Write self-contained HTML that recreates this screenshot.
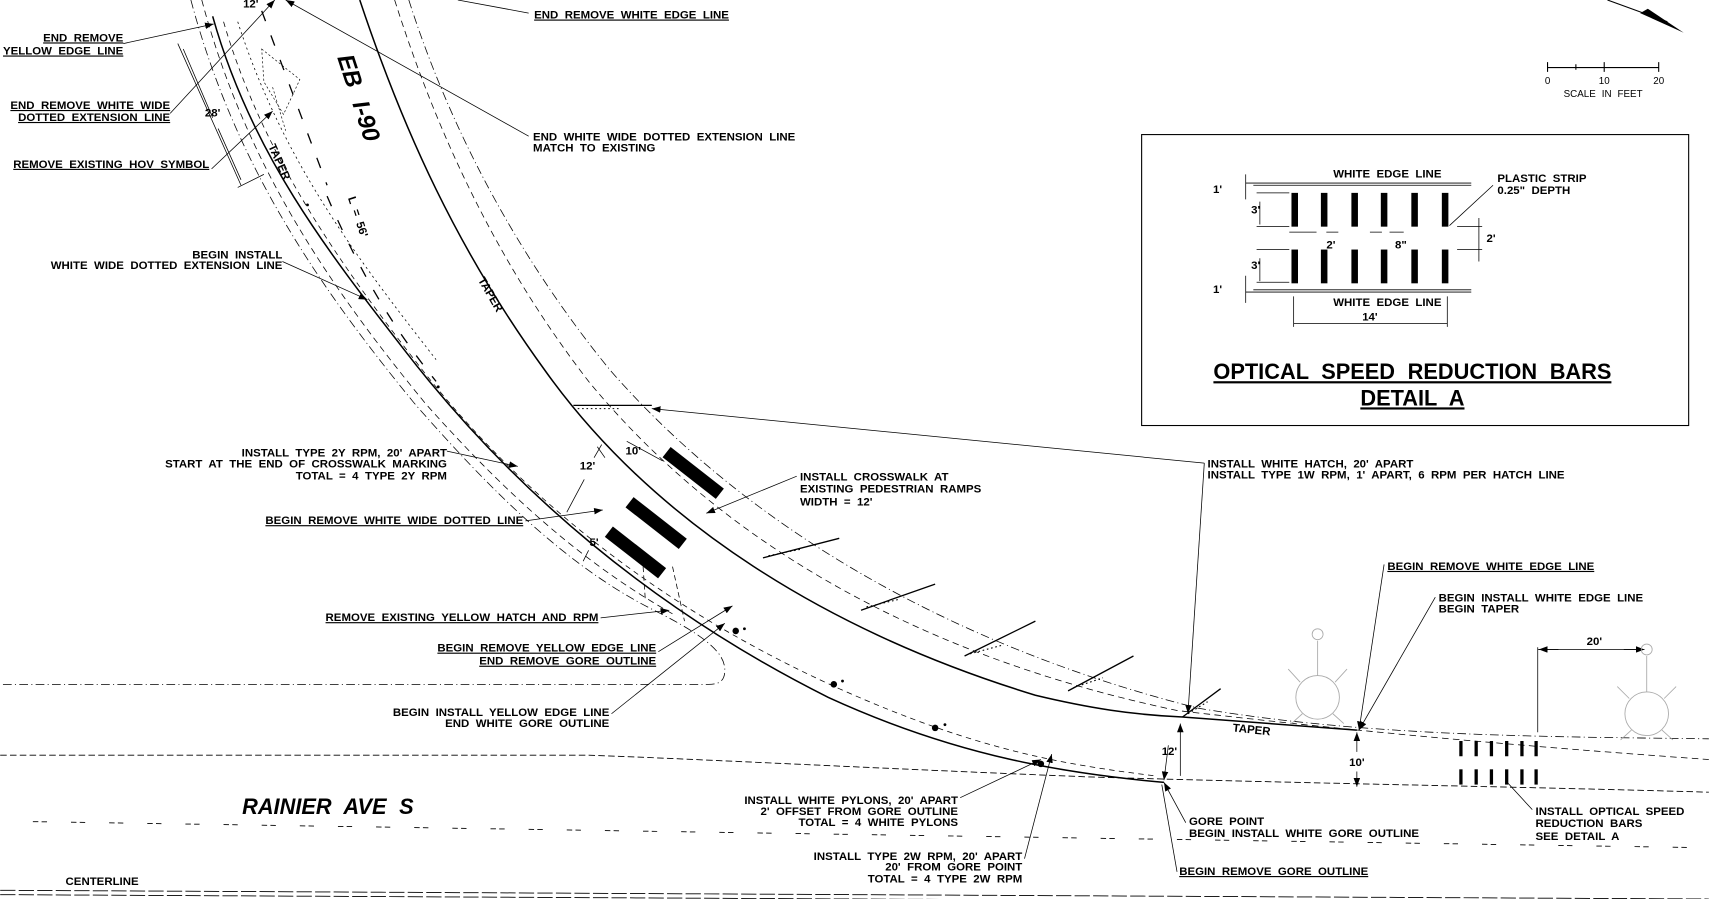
<!DOCTYPE html>
<html><head><meta charset="utf-8"><style>
html,body{margin:0;padding:0;background:#fff;}
svg{display:block;}
text{font-family:"Liberation Sans",sans-serif;font-weight:bold;font-size:10.5px;fill:#000;word-spacing:3px;}
.u{text-decoration:underline;}
.e{text-anchor:end;}
.m{text-anchor:middle;}
</style></head><body>
<svg width="1709" height="899" viewBox="0 0 1568 825" xmlns="http://www.w3.org/2000/svg">
<defs>
<marker id="a" markerWidth="8" markerHeight="6" refX="8" refY="3" orient="auto" markerUnits="userSpaceOnUse"><path d="M0,0 L8,3 L0,6 z" fill="#000"/></marker>
</defs>
<g fill="none" stroke="#000">
<path d="M195,15 C230,140 300,230 370,320 C470,450 600,560 760,640 C880,695 980,710 1068,718" stroke-width="1.4"/>
<path d="M330,0 C370,120 420,230 500,340 C600,480 760,580 950,638 C1000,650 1040,656 1085,658 L1245,670" stroke-width="1.4"/>
<path d="M375,0 C410,110 470,230 560,340 C700,500 900,600 1100,650 C1250,675 1400,676 1568,678" stroke-width="0.7" stroke-dasharray="8,3,1,3"/>
<path d="M362,0 C400,120 455,240 540,350 C680,520 880,610 1080,652 C1250,672 1400,685 1568,697" stroke-width="0.7" stroke-dasharray="6,4"/>
<path d="M205,20 C240,140 310,240 380,330 C480,460 610,560 770,632 C900,690 980,702 1060,712" stroke-width="0.7" stroke-dasharray="5,4"/>
<path d="M218,20 C260,150 330,240 400,330" stroke-width="0.7" stroke-dasharray="2,3"/>
<path d="M240,10 L300,170 M300,180 C330,250 360,300 400,350" stroke-width="1.2" stroke-dasharray="10,14"/>
<path d="M175,0 C215,150 290,260 380,370 C450,450 520,520 600,560 C650,585 665,600 665,615 C665,625 660,628 650,628 L0,628" stroke-width="0.7" stroke-dasharray="8,3,1,3"/>
<path d="M185,0 C225,150 300,260 390,370 C470,460 540,520 620,565" stroke-width="0.7" stroke-dasharray="6,4"/>
<path d="M0,693 L540,693 C650,697 800,705 1000,713 C1200,719 1400,722 1568,727" stroke-width="0.8" stroke-dasharray="6,3"/>
<path d="M30,754 L1568,778" stroke-width="0.8" stroke-dasharray="5,3,5,22"/>
<path d="M0,817 L1568,825 M0,821 L1568,829" stroke-width="0.8" stroke-dasharray="14,3"/>
<path d="M240,45 L275,73 L260,105 L242,75 z M250,80 L262,120" stroke-width="0.6" stroke-dasharray="2,2"/>
<path d="M163,40 L221,170 M168,45 L195,108 M200,118 L221,165" stroke-width="0.7"/>
<path d="M218,172 L242,160" stroke-width="0.7"/>
<path d="M526,372 L598,372 M700,512 L770,494 M790,560 L858,536 M885,602 L950,570 M980,634 L1040,602 M1085,658 L1120,632" stroke-width="1.2"/>
<path d="M530,375 L570,375 M705,510 L735,504 M795,557 L825,550 M890,600 L920,592 M985,631 L1012,622 M1090,655 L1108,644" stroke-width="1" stroke-dasharray="1.5,2.5"/>
<path d="M590,520 L592,550 M617,520 L628,570" stroke-width="0.7" stroke-dasharray="5,3"/>
<path d="M113,40 L196,22" marker-end="url(#a)" stroke-width="0.7"/>
<path d="M156,104 L252,0" marker-end="url(#a)" stroke-width="0.7"/>
<path d="M194,155 L250,102" marker-end="url(#a)" stroke-width="0.7"/>
<path d="M259,240 L337,275" marker-end="url(#a)" stroke-width="0.7"/>
<path d="M485,12 L420,0" stroke-width="0.7"/>
<path d="M485,125 L262,0" marker-end="url(#a)" stroke-width="0.7"/>
<path d="M410,414 L475,428" marker-end="url(#a)" stroke-width="0.7"/>
<path d="M482,478 L553,468" marker-end="url(#a)" stroke-width="0.7"/>
<path d="M731,437 L648,471" marker-end="url(#a)" stroke-width="0.7"/>
<path d="M1105,425 L598,375" marker-end="url(#a)" stroke-width="0.7"/>
<path d="M1105,425 L1090,655" marker-end="url(#a)" stroke-width="0.7"/>
<path d="M551,567 L614,560" marker-end="url(#a)" stroke-width="0.7"/>
<path d="M604,598 L672,556" marker-end="url(#a)" stroke-width="0.7"/>
<path d="M561,655 L665,572" marker-end="url(#a)" stroke-width="0.7"/>
<path d="M881,732 L955,697" marker-end="url(#a)" stroke-width="0.7"/>
<path d="M940,788 L965,692" marker-end="url(#a)" stroke-width="0.7"/>
<path d="M1088,755 L1068,718" marker-end="url(#a)" stroke-width="0.7"/>
<path d="M1080,800 L1066,720" stroke-width="0.7"/>
<path d="M1270,518 L1247,670" marker-end="url(#a)" stroke-width="0.7"/>
<path d="M1317,548 L1247,670" marker-end="url(#a)" stroke-width="0.7"/>
<path d="M1406,743 L1383,718" stroke-width="0.7"/>
<path d="M1083,712 L1083,664" marker-end="url(#a)" stroke-width="0.7"/>
<path d="M1072,684 L1068,716" marker-end="url(#a)" stroke-width="0.7"/>
<path d="M1245,690 L1245,672" marker-end="url(#a)" stroke-width="0.7"/>
<path d="M1245,708 L1245,722" marker-end="url(#a)" stroke-width="0.7"/>
<path d="M1411,672 L1411,594 M1411,596 L1508,596" stroke-width="0.7"/>
<path d="M1430,596 L1412,596" marker-end="url(#a)" stroke-width="0.7"/>
<path d="M1490,596 L1509,596" marker-end="url(#a)" stroke-width="0.7"/>
<path d="M555,420 L548,410 M575,405 L608,423 M536,440 L520,470 M545,420 L552,408 M540,505 L535,515" stroke-width="0.7"/>
<g stroke="#aaa" stroke-width="0.8">
<circle cx="1209" cy="640" r="20"/><path d="M1209,620 L1209,588 M1193,626 L1182,614 M1225,626 L1236,614 M1195,655 L1185,664 M1223,655 L1233,664"/><circle cx="1209" cy="582" r="5"/>
<circle cx="1511" cy="655" r="20"/><path d="M1511,635 L1511,602 M1495,641 L1484,630 M1527,641 L1538,630 M1497,670 L1487,679 M1525,670 L1535,679"/><circle cx="1511" cy="596" r="5"/>
</g>
<path d="M1420,62 L1522,62 M1420,57 L1420,66 M1446,59 L1446,64 M1472,57 L1472,66 M1522,57 L1522,66" stroke-width="1"/>
<path d="M1475,0 L1530,20" stroke-width="1"/>
<rect x="1047.5" y="123.5" width="502" height="267" stroke-width="1"/>
<path d="M1143,168 L1350,168 M1143,268 L1350,268 M1150,170 L1350,170 M1150,266 L1350,266" stroke-width="0.8"/>
<path d="M1143,160 L1143,183 M1143,253 L1143,278 M1153,177 L1183,177 M1153,208 L1183,208 M1153,229 L1183,229 M1153,259 L1183,259 M1156,185 L1156,206 M1156,237 L1156,258 M1337,208 L1360,208 M1337,229 L1360,229 M1357,200 L1357,240 M1187,272 L1187,300 M1328,272 L1328,300 M1187,297 L1328,297 M1183,213 L1208,213 M1217,213 L1228,213 M1257,213 L1268,213 M1275,213 L1288,213 M1370,170 L1330,207" stroke-width="0.7"/>
</g>
<g fill="#000">
<rect x="-31" y="-6" width="62" height="12" transform="translate(636,434) rotate(38)"/>
<rect x="-31" y="-6" width="62" height="12" transform="translate(602,480) rotate(38)"/>
<rect x="-31" y="-6" width="62" height="12" transform="translate(583,507) rotate(38)"/>
<circle cx="675" cy="579" r="3"/><circle cx="765" cy="628" r="3"/><circle cx="858" cy="668" r="3"/><circle cx="955" cy="701" r="3"/>
<circle cx="683" cy="577" r="1.3"/><circle cx="773" cy="625" r="1.3"/><circle cx="867" cy="665" r="1.3"/><circle cx="282" cy="188" r="1.3"/><circle cx="402" cy="355" r="1.3"/>
<g id="b1"><rect x="1339" y="680" width="3" height="14"/><rect x="1353" y="680" width="3" height="14"/><rect x="1367" y="680" width="3" height="14"/><rect x="1381" y="680" width="3" height="14"/><rect x="1395" y="680" width="3" height="14"/><rect x="1408" y="680" width="3" height="14"/></g>
<use href="#b1" y="26"/>
<g id="b2"><rect x="1185" y="177" width="6" height="31"/><rect x="1212" y="177" width="6" height="31"/><rect x="1240" y="177" width="6" height="31"/><rect x="1267" y="177" width="6" height="31"/><rect x="1295" y="177" width="6" height="31"/><rect x="1323" y="177" width="6" height="31"/></g>
<use href="#b2" y="52"/>
</g>
<text x="113" y="38" class="e u">END REMOVE</text>
<text x="113" y="50" class="e u">YELLOW EDGE LINE</text>
<text x="156" y="100" class="e u">END REMOVE WHITE WIDE</text>
<text x="156" y="111" class="e u">DOTTED EXTENSION LINE</text>
<text x="12" y="154" class="u">REMOVE EXISTING HOV SYMBOL</text>
<text x="259" y="237" class="e">BEGIN INSTALL</text>
<text x="259" y="247" class="e">WHITE WIDE DOTTED EXTENSION LINE</text>
<text x="490" y="17" class="u">END REMOVE WHITE EDGE LINE</text>
<text x="489" y="129">END WHITE WIDE DOTTED EXTENSION LINE</text>
<text x="489" y="139">MATCH TO EXISTING</text>
<text x="410" y="419" class="e">INSTALL TYPE 2Y RPM, 20' APART</text>
<text x="410" y="429" class="e">START AT THE END OF CROSSWALK MARKING</text>
<text x="410" y="440" class="e">TOTAL = 4 TYPE 2Y RPM</text>
<text x="480" y="481" class="e u">BEGIN REMOVE WHITE WIDE DOTTED LINE</text>
<text x="734" y="441">INSTALL CROSSWALK AT</text>
<text x="734" y="452">EXISTING PEDESTRIAN RAMPS</text>
<text x="734" y="464">WIDTH = 12'</text>
<text x="1108" y="429">INSTALL WHITE HATCH, 20' APART</text>
<text x="1108" y="439">INSTALL TYPE 1W RPM, 1' APART, 6 RPM PER HATCH LINE</text>
<text x="549" y="570" class="e u">REMOVE EXISTING YELLOW HATCH AND RPM</text>
<text x="602" y="598" class="e u">BEGIN REMOVE YELLOW EDGE LINE</text>
<text x="602" y="610" class="e u">END REMOVE GORE OUTLINE</text>
<text x="559" y="657" class="e">BEGIN INSTALL YELLOW EDGE LINE</text>
<text x="559" y="667" class="e">END WHITE GORE OUTLINE</text>
<text x="222" y="747" style="font-size:20px;font-style:italic;font-weight:bold;word-spacing:6px">RAINIER AVE S</text>
<text x="879" y="738" class="e">INSTALL WHITE PYLONS, 20' APART</text>
<text x="879" y="748" class="e">2' OFFSET FROM GORE OUTLINE</text>
<text x="879" y="758" class="e">TOTAL = 4 WHITE PYLONS</text>
<text x="938" y="789" class="e">INSTALL TYPE 2W RPM, 20' APART</text>
<text x="938" y="799" class="e">20' FROM GORE POINT</text>
<text x="938" y="810" class="e">TOTAL = 4 TYPE 2W RPM</text>
<text x="1091" y="757">GORE POINT</text>
<text x="1091" y="768">BEGIN INSTALL WHITE GORE OUTLINE</text>
<text x="1082" y="803" class="u">BEGIN REMOVE GORE OUTLINE</text>
<text x="60" y="812">CENTERLINE</text>
<text x="1273" y="523" class="u">BEGIN REMOVE WHITE EDGE LINE</text>
<text x="1320" y="552">BEGIN INSTALL WHITE EDGE LINE</text>
<text x="1320" y="562">BEGIN TAPER</text>
<text x="1409" y="748">INSTALL OPTICAL SPEED</text>
<text x="1409" y="759">REDUCTION BARS</text>
<text x="1409" y="771">SEE DETAIL A</text>
<text x="1463" y="592" class="m">20'</text>
<text x="1131" y="673" transform="rotate(6 1148 670)">TAPER</text>
<text x="1073" y="693" class="m">12'</text>
<text x="1245" y="703" class="m">10'</text>
<text x="581" y="417" class="m">10'</text>
<text x="539" y="431" class="m">12'</text>
<text x="545" y="501" class="m">5'</text>
<text x="230" y="7" class="m">12'</text>
<text x="195" y="107" class="m">28'</text>
<text x="253" y="150" class="m" transform="rotate(66 253 150)">TAPER</text>
<text x="447" y="272" class="m" transform="rotate(60 447 272)">TAPER</text>
<text x="325" y="200" class="m" transform="rotate(72 325 200)">L = 56'</text>
<text x="322" y="92" class="m" transform="rotate(72 322 92)" style="font-size:22px;font-style:italic;word-spacing:8px">EB I-90</text>
<text x="1420" y="77" class="m" style="font-weight:normal;font-size:9px">0</text>
<text x="1472" y="77" class="m" style="font-weight:normal;font-size:9px">10</text>
<text x="1522" y="77" class="m" style="font-weight:normal;font-size:9px">20</text>
<text x="1471" y="89" class="m" style="font-weight:normal;font-size:9px">SCALE IN FEET</text>
<text x="1273" y="163" class="m">WHITE EDGE LINE</text>
<text x="1273" y="281" class="m">WHITE EDGE LINE</text>
<text x="1374" y="167">PLASTIC STRIP</text>
<text x="1374" y="178">0.25" DEPTH</text>
<text x="1257" y="294" class="m">14'</text>
<text x="1113" y="177">1'</text>
<text x="1113" y="269">1'</text>
<text x="1148" y="196">3'</text>
<text x="1148" y="247">3'</text>
<text x="1217" y="228">2'</text>
<text x="1280" y="228">8"</text>
<text x="1364" y="222">2'</text>
<text x="1296" y="348" class="m u" style="font-size:20px;word-spacing:6px">OPTICAL SPEED REDUCTION BARS</text>
<text x="1296" y="372" class="m u" style="font-size:20px;word-spacing:6px">DETAIL A</text>
<path d="M1545,30 L1505,12 L1512,8 z" fill="#000"/>
</svg>
</body></html>
